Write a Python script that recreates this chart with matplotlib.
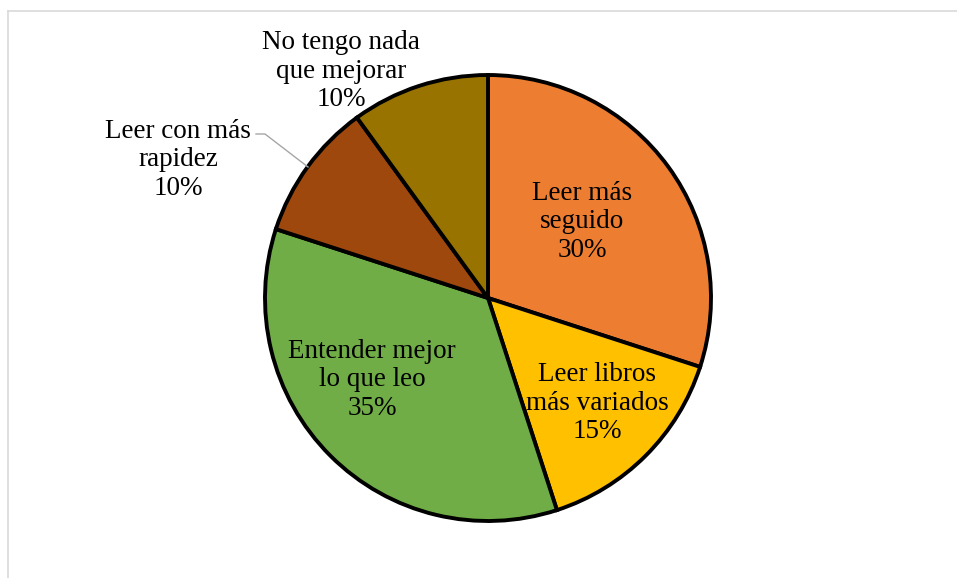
import matplotlib.pyplot as plt
from matplotlib.lines import Line2D

# Data
categories = ['Leer más\nseguido', 'Leer libros\nmás variados', 'Entender mejor\nlo que leo',
              'Leer con más\nrapidez', 'No tengo nada\nque mejorar']
values = [30, 15, 35, 10, 10]
colors = ['#ED7D31', '#FFC000', '#70AD47', '#9E480E', '#997300']

W, H = 957, 578
fig = plt.figure(figsize=(W / 100, H / 100), dpi=100)
ax = fig.add_axes([0, 0, 1, 1])

# pie centre / radius in pixel coords (y measured from bottom)
cx, cy, r = 488, H - 298, 223
ax.pie(values, colors=colors, startangle=90, counterclock=False,
       center=(cx, cy), radius=r, frame=True,
       wedgeprops=dict(edgecolor='black', linewidth=2.8))
ax.set_xlim(0, W)
ax.set_ylim(0, H)
ax.set_aspect('equal')
ax.axis('off')

# label positions (pixel coords, from top)
label_pos = [(582, 222), (597, 403), (372, 380), (178, 160), (341, 71)]
for cat, v, (x, y) in zip(categories, values, label_pos):
    ax.text(x, H - y, f'{cat}\n{v}%', ha='center', va='center',
            fontsize=19.5, family='Liberation Serif', color='black',
            linespacing=1.2)

# leader line for the small slice
ax.add_line(Line2D([256, 265, 308], [H - 134, H - 134, H - 167],
                   color='#A6A6A6', linewidth=1.0))

# chart frame (only top and left edges visible)
ax.add_line(Line2D([8, W], [H - 11, H - 11], color='#D9D9D9', linewidth=1.2))
ax.add_line(Line2D([8, 8], [0, H - 11], color='#D9D9D9', linewidth=1.2))

fig.savefig('out.png', dpi=100, facecolor='white')
